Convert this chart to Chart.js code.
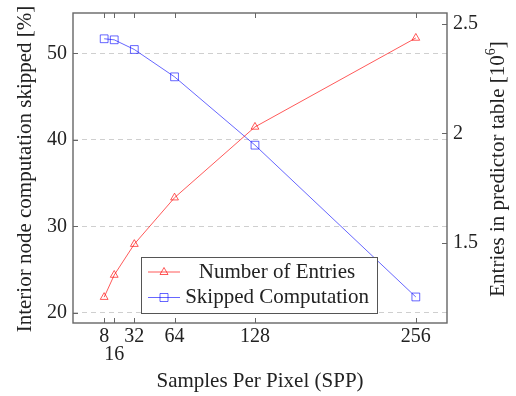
<!DOCTYPE html>
<html>
<head>
<meta charset="utf-8">
<script src="https://cdn.jsdelivr.net/npm/chart.js"></script>
<style>
  body { margin: 0; background: #fff; }
  #wrap { width: 516px; height: 396px; }
</style>
</head>
<body>
<div id="wrap"><canvas id="myChart" width="516" height="396"></canvas></div>
<script>
// data
const spp = [8, 16, 32, 64, 128, 256]
const entries = [1.253, 1.354, 1.495, 1.707, 2.03, 2.436]   // 10^6, right axis
const skipped = [51.7, 51.58, 50.46, 47.3, 39.4, 21.85]     // %, left axis

const xTicks = [8, 16, 32, 64, 128, 256]
const leftTicks = [20, 30, 40, 50]
const rightTicks = [1.5, 2, 2.5]

const FONT = "'Liberation Serif', serif"
const RED = 'rgba(255,0,0,0.65)'
const BLUE = 'rgba(0,0,255,0.6)'
const FRAME = '#666'

function pairs(xs, ys) {
  return xs.map((x, i) => ({x: x, y: ys[i]}))
}

// no automatic label padding, the plot box is fixed
function noPad(s) {
  s.paddingTop = 0; s.paddingBottom = 0
  s.paddingLeft = 0; s.paddingRight = 0
}

// frame, inward tick marks, titles and legend
const decor = {
  id: 'decor',
  afterDraw(chart) {
    const ctx = chart.ctx
    const a = chart.chartArea
    const sx = chart.scales.x, sl = chart.scales.yL, sr = chart.scales.yR
    ctx.save()
    ctx.strokeStyle = FRAME
    ctx.lineWidth = 1
    ctx.beginPath()
    xTicks.forEach(v => {
      let px = Math.round(sx.getPixelForValue(v)) + 0.5
      ctx.moveTo(px, a.bottom); ctx.lineTo(px, a.bottom - 5)
      ctx.moveTo(px, a.top); ctx.lineTo(px, a.top + 5)
    })
    leftTicks.forEach(v => {
      let py = Math.round(sl.getPixelForValue(v)) + 0.5
      ctx.moveTo(a.left, py); ctx.lineTo(a.left + 5, py)
    })
    rightTicks.forEach(v => {
      let py = Math.round(sr.getPixelForValue(v)) + 0.5
      ctx.moveTo(a.right, py); ctx.lineTo(a.right - 5, py)
    })
    ctx.stroke()
    ctx.lineWidth = 1.4
    ctx.strokeRect(a.left, a.top, a.right - a.left, a.bottom - a.top)

    // titles
    ctx.fillStyle = '#222'
    ctx.font = '21px ' + FONT
    ctx.textAlign = 'center'
    ctx.textBaseline = 'middle'
    ctx.fillText('Samples Per Pixel (SPP)', (a.left + a.right) / 2, 381)

    ctx.save()
    ctx.translate(25, 169)
    ctx.rotate(-Math.PI / 2)
    ctx.fillText('Interior node computation skipped [%]', 0, 0)
    ctx.restore()

    ctx.save()
    ctx.translate(498, 169)
    ctx.rotate(-Math.PI / 2)
    let main = 'Entries in predictor table [10'
    ctx.font = '21px ' + FONT
    let w1 = ctx.measureText(main).width
    ctx.font = '14px ' + FONT
    let w2 = ctx.measureText('6').width
    ctx.font = '21px ' + FONT
    let w3 = ctx.measureText(']').width
    let start = -(w1 + w2 + w3) / 2
    ctx.textAlign = 'left'
    ctx.fillText(main, start, 0)
    ctx.font = '14px ' + FONT
    ctx.fillText('6', start + w1, -7)
    ctx.font = '21px ' + FONT
    ctx.fillText(']', start + w1 + w2, 0)
    ctx.restore()

    // legend box
    ctx.fillStyle = '#fff'
    ctx.fillRect(141.5, 257.5, 236, 56)
    ctx.strokeStyle = '#555'
    ctx.lineWidth = 1
    ctx.strokeRect(141.5, 257.5, 236, 56)
    let rows = [
      {label: 'Number of Entries', color: RED, y: 272, mark: 'tri'},
      {label: 'Skipped Computation', color: BLUE, y: 297.5, mark: 'sq'}
    ]
    rows.forEach(r => {
      ctx.strokeStyle = r.color
      ctx.lineWidth = 1
      ctx.beginPath()
      ctx.moveTo(148, r.y); ctx.lineTo(180, r.y)
      ctx.stroke()
      ctx.beginPath()
      if (r.mark == 'tri') {
        ctx.moveTo(164, r.y - 4.5); ctx.lineTo(168, r.y + 2.5); ctx.lineTo(160, r.y + 2.5); ctx.closePath()
      } else {
        ctx.rect(160, r.y - 4, 8, 8)
      }
      ctx.stroke()
      ctx.fillStyle = '#222'
      ctx.font = '21px ' + FONT
      ctx.textAlign = 'center'
      ctx.fillText(r.label, 277, r.y)
    })
    ctx.restore()
  }
}

function updateGraph() {
  var ctx = document.getElementById('myChart').getContext('2d')
  var chart = new Chart(ctx, {
    type: 'line',
    data: {
      datasets: [{
        label: 'Number of Entries',
        data: pairs(spp, entries),
        yAxisID: 'yR',
        borderColor: RED,
        borderWidth: 1,
        pointStyle: 'triangle',
        pointRadius: 4.5,
        pointBorderColor: RED,
        pointBackgroundColor: 'rgba(0,0,0,0)',
        pointBorderWidth: 1,
        tension: 0
      }, {
        label: 'Skipped Computation',
        data: pairs(spp, skipped),
        yAxisID: 'yL',
        borderColor: BLUE,
        borderWidth: 1,
        pointStyle: 'rect',
        pointRadius: 5.5,
        pointBorderColor: BLUE,
        pointBackgroundColor: 'rgba(0,0,0,0)',
        pointBorderWidth: 1,
        tension: 0
      }]
    },
    options: {
      responsive: false,
      animation: false,
      layout: {padding: {top: 13, left: 0, right: 0, bottom: 0}},
      plugins: {legend: {display: false}, tooltip: {enabled: false}},
      scales: {
        x: {
          type: 'linear',
          min: -16.8,
          max: 280.8,
          afterBuildTicks: s => { s.ticks = xTicks.map(v => ({value: v})) },
          afterFit: s => { s.height = 73; noPad(s) },
          grid: {display: false, drawTicks: false},
          border: {display: false},
          ticks: {
            padding: 5,
            color: '#222',
            maxRotation: 0,
            autoSkip: false,
            font: {family: FONT, size: 20, lineHeight: 0.9},
            callback: v => v == 16 ? ['', '16'] : String(v)
          }
        },
        yL: {
          position: 'left',
          min: 18.84,
          max: 54.68,
          afterBuildTicks: s => { s.ticks = leftTicks.map(v => ({value: v})) },
          afterFit: s => { s.width = 73; noPad(s) },
          grid: {color: '#cfcfcf', drawTicks: false, lineWidth: 1},
          border: {display: false, dash: [5, 4]},
          ticks: {padding: 6, color: '#222', font: {family: FONT, size: 20}}
        },
        yR: {
          position: 'right',
          min: 1.135,
          max: 2.55,
          afterBuildTicks: s => { s.ticks = rightTicks.map(v => ({value: v})) },
          afterFit: s => { s.width = 69; noPad(s) },
          grid: {display: false, drawOnChartArea: false, drawTicks: false},
          border: {display: false},
          ticks: {padding: 6, color: '#222', font: {family: FONT, size: 20}, callback: v => String(v)}
        }
      }
    },
    plugins: [decor]
  })
}

updateGraph()
</script>
</body>
</html>
